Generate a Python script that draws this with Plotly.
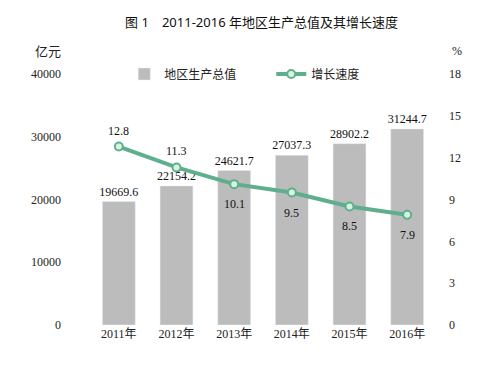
import plotly.graph_objects as go

years = ["2011年", "2012年", "2013年", "2014年", "2015年", "2016年"]
gdp = [19669.6, 22154.2, 24621.7, 27037.3, 28902.2, 31244.7]
growth = [12.8, 11.3, 10.1, 9.5, 8.5, 7.9]
label_above = [True, True, False, False, False, False]

serif = "Liberation Serif, Noto Sans CJK SC"

fig = go.Figure()
fig.add_trace(go.Bar(
    x=years, y=gdp, name="地区生产总值",
    marker=dict(color="#bcbcbc"),
    text=[f"{v:.1f}" for v in gdp], textposition="outside", constraintext="none",
    textfont=dict(family=serif, size=12, color="#111"),
    cliponaxis=False,
))
fig.add_trace(go.Scatter(
    x=years, y=growth, name="增长速度", yaxis="y2",
    mode="lines+markers",
    line=dict(color="#5fae8e", width=4),
    marker=dict(size=8, color="#d4f5dc", line=dict(color="#5fae8e", width=2)),
    cliponaxis=False,
))

annotations = [
    dict(text="亿元", xref="paper", yref="paper", x=-0.12, y=1.09, showarrow=False,
         xanchor="center", yanchor="middle", font=dict(family=serif, size=13, color="#222")),
    dict(text="%", xref="paper", yref="paper", x=1.06, y=1.09, showarrow=False,
         xanchor="center", yanchor="middle", font=dict(family=serif, size=12, color="#222")),
]
for yr, g, up in zip(years, growth, label_above):
    annotations.append(dict(
        x=yr, y=g, xref="x", yref="y2", text=f"{g:.1f}", showarrow=False,
        yshift=16 if up else -20, xanchor="center", yanchor="middle",
        font=dict(family=serif, size=12, color="#111"),
    ))

fig.update_layout(
    width=503, height=366,
    margin=dict(l=90, r=67, t=74, b=41, autoexpand=False),
    paper_bgcolor="white", plot_bgcolor="white",
    bargap=0.43,
    showlegend=True,
    legend=dict(orientation="h", x=0.099, xanchor="left", y=1.0, yanchor="middle",
                font=dict(family=serif, size=12, color="#222"),
                entrywidth=102, entrywidthmode="pixels", bgcolor="rgba(0,0,0,0)"),
    title=dict(text="图 1　2011-2016 年地区生产总值及其增长速度", x=0.52, xanchor="center",
               y=0.94, yanchor="middle",
               font=dict(family="Noto Sans, Noto Sans CJK SC", size=13, color="#111")),
    xaxis=dict(showline=False, ticks="", automargin=False,
               tickfont=dict(family=serif, size=12, color="#222")),
    yaxis=dict(range=[0, 40000], dtick=10000, tickformat="d", showgrid=False, zeroline=False,
               automargin=False,
               tickfont=dict(family=serif, size=12, color="#222"), ticklabelstandoff=28),
    yaxis2=dict(range=[0, 18], dtick=3, overlaying="y", side="right", showgrid=False,
                zeroline=False, automargin=False,
                tickfont=dict(family=serif, size=12, color="#222"),
                ticklabelstandoff=12),
    annotations=annotations,
)
fig.write_html("out.html", config={"displayModeBar": False},
               post_script="document.body.style.margin='0';")
